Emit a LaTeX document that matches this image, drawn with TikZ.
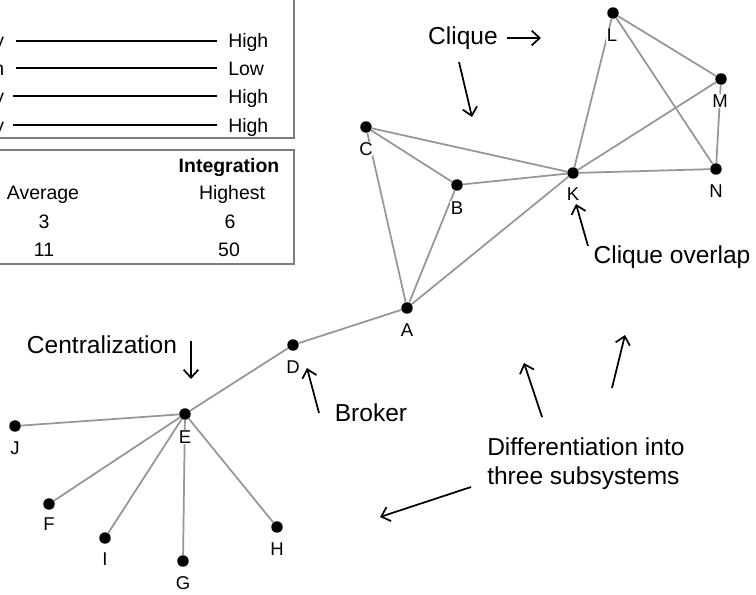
\documentclass[tikz,border=0pt]{standalone}
\usepackage{fontspec}
\setmainfont{Liberation Sans}
\usetikzlibrary{arrows.meta}
\definecolor{edgegray}{RGB}{150,150,150}
\definecolor{boxgray}{RGB}{125,125,125}
\begin{document}
\begin{tikzpicture}[x=0.75pt,y=-0.75pt,
  dot/.style={circle,fill=black,inner sep=0pt,minimum size=8.6pt},
  lbl/.style={fill=white,inner sep=0.6pt,font=\fontsize{13.9}{15}\selectfont},
  edge/.style={draw=edgegray,line width=1.3pt},
  ann/.style={font=\fontsize{18.4}{22}\selectfont,inner sep=0pt},
  boxtxt/.style={font=\fontsize{14.6}{17}\selectfont,inner sep=0pt,anchor=base},
  pointer/.style={draw=black,line width=1.3pt,-{Straight Barb[length=6pt,width=11pt,line width=1.3pt]}},
  tbox/.style={draw=boxgray,line width=1pt},
  rulel/.style={draw=black,line width=1.4pt}]
\useasboundingbox (0,0) rectangle (756,594);
\fill[white] (0,0) rectangle (756,594);

% ---- tables ----
\draw[tbox] (-10,-10) rectangle (294,138);
\draw[tbox] (-10,150) rectangle (294,264);

\node[boxtxt,anchor=base east] (p1) at (4.5,47) {y};
\node[boxtxt,anchor=base east] (p2) at (4.5,75) {h};
\node[boxtxt,anchor=base east] (p3) at (4.5,103) {y};
\node[boxtxt,anchor=base east] (p4) at (4.5,132) {y};
\node[boxtxt,anchor=base west] (v1) at (228,47) {High};
\node[boxtxt,anchor=base west] (v2) at (228,75) {Low};
\node[boxtxt,anchor=base west] (v3) at (228,103) {High};
\node[boxtxt,anchor=base west] (v4) at (228,132) {High};
\draw[rulel] (16,41) -- (217,41);
\draw[rulel] (16,68) -- (217,68);
\draw[rulel] (13,96) -- (217,96);
\draw[rulel] (13,125) -- (217,125);

\node[boxtxt] (integ) at (229,172) {\bfseries Integration};
\node[boxtxt] (avg) at (43,199) {Average};
\node[boxtxt] (hst) at (232,199) {Highest};
\node[boxtxt] (n3) at (44,228) {3};
\node[boxtxt] (n6) at (230,228) {6};
\node[boxtxt] (n11) at (44,256) {11};
\node[boxtxt] (n50) at (229,256) {50};

% ---- graph nodes ----
\node[dot] (A) at (407,308) {};
\node[dot] (B) at (457,185) {};
\node[dot] (C) at (366,127) {};
\node[dot] (D) at (293,345) {};
\node[dot] (E) at (185,414) {};
\node[dot] (F) at (49,504) {};
\node[dot] (G) at (183,561) {};
\node[dot] (H) at (277,527) {};
\node[dot] (I) at (105,538) {};
\node[dot] (J) at (15,426) {};
\node[dot] (K) at (573,173) {};
\node[dot] (L) at (613,13) {};
\node[dot] (M) at (721,79) {};
\node[dot] (N) at (716,169) {};

% ---- edges ----
\draw[edge] (C) -- (B);
\draw[edge] (C) -- (K);
\draw[edge] (C) -- (A);
\draw[edge] (B) -- (K);
\draw[edge] (B) -- (A);
\draw[edge] (A) -- (K);
\draw[edge] (A) -- (D);
\draw[edge] (D) -- (E);
\draw[edge] (E) -- (J);
\draw[edge] (E) -- (F);
\draw[edge] (E) -- (I);
\draw[edge] (E) -- (G);
\draw[edge] (E) -- (H);
\draw[edge] (K) -- (L);
\draw[edge] (K) -- (M);
\draw[edge] (K) -- (N);
\draw[edge] (L) -- (M);
\draw[edge] (L) -- (N);
\draw[edge] (M) -- (N);

% ---- labels ----
\node[lbl] (lA) at (407,330) {A};
\node[lbl] (lB) at (457,208) {B};
\node[lbl] (lC) at (366,149) {C};
\node[lbl] (lD) at (293,367) {D};
\node[lbl] (lE) at (185,437) {E};
\node[lbl] (lF) at (49,524) {F};
\node[lbl] (lG) at (183,583) {G};
\node[lbl] (lH) at (277,549) {H};
\node[lbl] (lI) at (105,559) {I};
\node[lbl] (lJ) at (15,448) {J};
\node[lbl] (lK) at (573,194) {K};
\node[lbl] (lL) at (612,35) {L};
\node[lbl] (lM) at (720,101) {M};
\node[lbl] (lN) at (716,191) {N};

% ---- annotations ----
\node[ann] (clique) at (463,38) {Clique};
\coordinate (c1s) at (507,38); \coordinate (c1e) at (541,38);
\draw[pointer] (c1s) -- (c1e);
\coordinate (c2s) at (459,62); \coordinate (c2e) at (472,117);
\draw[pointer] (c2s) -- (c2e);

\node[ann] (overlap) at (672,257) {Clique overlap};
\coordinate (o1s) at (588,246); \coordinate (o1e) at (576,204);
\draw[pointer] (o1s) -- (o1e);

\node[ann] (central) at (102,345) {Centralization};
\coordinate (z1s) at (191,341); \coordinate (z1e) at (191,379);
\draw[pointer] (z1s) -- (z1e);

\node[ann] (broker) at (371,413) {Broker};
\coordinate (b1s) at (319,413); \coordinate (b1e) at (307,368);
\draw[pointer] (b1s) -- (b1e);

\node[ann,align=left,anchor=north west] (diff) at (487,437) {Differentiation into\\three subsystems};
\coordinate (d1s) at (542,417); \coordinate (d1e) at (524,363);
\draw[pointer] (d1s) -- (d1e);
\coordinate (d2s) at (612,388); \coordinate (d2e) at (625,335);
\draw[pointer] (d2s) -- (d2e);
\coordinate (d3s) at (471,487); \coordinate (d3e) at (380,517);
\draw[pointer] (d3s) -- (d3e);
\end{tikzpicture}
\end{document}
